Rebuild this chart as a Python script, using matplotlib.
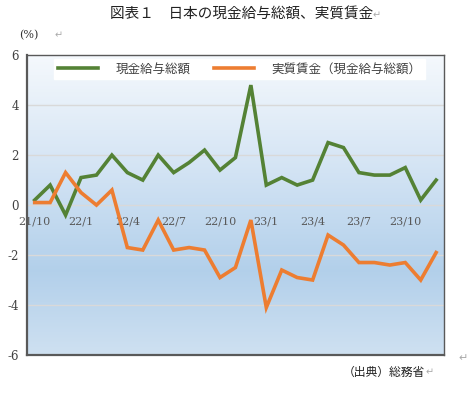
import numpy as np
import matplotlib
matplotlib.use("Agg")
import matplotlib.pyplot as plt
from matplotlib.colors import LinearSegmentedColormap

plt.rcParams['font.family'] = ['Noto Sans CJK JP', 'DejaVu Sans']

months = ["21/10", "21/11", "21/12", "22/1", "22/2", "22/3", "22/4", "22/5", "22/6",
          "22/7", "22/8", "22/9", "22/10", "22/11", "22/12", "23/1", "23/2", "23/3",
          "23/4", "23/5", "23/6", "23/7", "23/8", "23/9", "23/10", "23/11", "23/12"]
nominal = [0.2, 0.8, -0.4, 1.1, 1.2, 2.0, 1.3, 1.0, 2.0, 1.3, 1.7, 2.2, 1.4, 1.9,
           4.8, 0.8, 1.1, 0.8, 1.0, 2.5, 2.3, 1.3, 1.2, 1.2, 1.5, 0.2, 1.0]
real = [0.1, 0.1, 1.3, 0.5, 0.0, 0.6, -1.7, -1.8, -0.6, -1.8, -1.7, -1.8, -2.9, -2.5,
        -0.6, -4.1, -2.6, -2.9, -3.0, -1.2, -1.6, -2.3, -2.3, -2.4, -2.3, -3.0, -1.9]
label_months = ["21/10", "22/1", "22/4", "22/7", "22/10", "23/1", "23/4", "23/7", "23/10"]
yticks = [-6, -4, -2, 0, 2, 4, 6]
series_names = ["現金給与総額", "実質賃金（現金給与総額）"]

fig = plt.figure(figsize=(4.7, 3.93), dpi=100)
ax = fig.add_axes([0.0574, 0.0967, 0.887, 0.763])

x = np.arange(len(months))
ax.set_xlim(-0.5, len(months) - 0.5)
ax.set_ylim(-6, 6)

# gradient background
cmap = LinearSegmentedColormap.from_list(
    "bg", [(0.0, (0.96, 0.975, 0.99)), (0.35, (0.84, 0.90, 0.96)),
           (0.72, (0.70, 0.815, 0.92)), (1.0, (0.81, 0.88, 0.945))])
grad = np.linspace(0, 1, 256).reshape(-1, 1)
ax.imshow(grad, cmap=cmap, aspect='auto', extent=[-0.5, len(months) - 0.5, -6, 6],
          origin='upper', zorder=0)

for yv in yticks[1:-1]:
    ax.axhline(yv, color='#d9d9d9', lw=1.0, zorder=1)

ax.plot(x, nominal, color='#548235', lw=2.6, zorder=3, label=series_names[0],
        solid_joinstyle='miter')
ax.plot(x, real, color='#ED7D31', lw=2.6, zorder=3, label=series_names[1],
        solid_joinstyle='miter')

ax.set_yticks(yticks)
ax.set_yticklabels([str(v) for v in yticks], family='DejaVu Serif', fontsize=8.5,
                   color='#404040')
ax.tick_params(axis='y', length=0, pad=6)
ax.set_xticks([])

# category labels along the zero line
for m in label_months:
    ax.annotate(m, (months.index(m), 0), xytext=(0, -12), textcoords='offset points',
                ha='center', va='center', family='DejaVu Serif', fontsize=8,
                color='#595959', zorder=2, annotation_clip=False)

for side in ['left', 'bottom']:
    ax.spines[side].set_color('#595959')
    ax.spines[side].set_linewidth(1.6)
for side in ['top', 'right']:
    ax.spines[side].set_color('#595959')
    ax.spines[side].set_linewidth(1.0)

leg = ax.legend(loc='upper center', bbox_to_anchor=(0.51, 1.0), ncol=2,
                frameon=True, fancybox=False, fontsize=9, handlelength=3.2,
                columnspacing=1.9, handletextpad=1.4, borderpad=0.3, borderaxespad=0.3)
leg.get_frame().set_facecolor('white')
leg.get_frame().set_edgecolor('white')
leg.get_frame().set_alpha(1.0)
for t in leg.get_texts():
    t.set_color('#404040')

fig.text(0.515, 0.962, "図表１　日本の現金給与総額、実質賃金", ha='center', va='center',
         fontsize=10.5, color='#222222')
fig.text(0.503 + 0.29, 0.962, "↵", ha='left', va='center', fontsize=7, color='#aaaaaa',
         family=['DejaVu Sans'])
fig.text(0.04, 0.91, "(%)", ha='left', va='center', fontsize=8, color='#333333',
         family=['DejaVu Serif'])
fig.text(0.115, 0.91, "↵", ha='left', va='center', fontsize=7, color='#aaaaaa',
         family=['DejaVu Sans'])
fig.text(0.905, 0.053, "（出典）総務省", ha='right', va='center', fontsize=8.5,
         color='#222222')
fig.text(0.905, 0.053, "↵", ha='left', va='center', fontsize=7, color='#aaaaaa',
         family=['DejaVu Sans'])
fig.text(0.975, 0.089, "↵", ha='left', va='center', fontsize=8, color='#aaaaaa',
         family=['DejaVu Sans'])

fig.savefig("out.png", dpi=100)
